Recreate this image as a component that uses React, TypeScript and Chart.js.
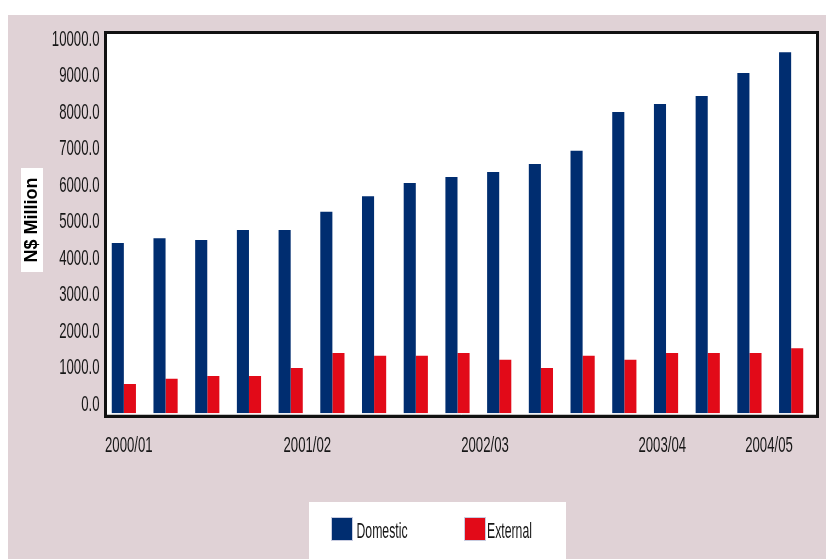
import React, { useEffect, useRef } from "react";
import { Chart, registerables } from "chart.js";

Chart.register(...registerables);

// ---- data ----
const categories = [
  "2000/01 Q1", "2000/01 Q2", "2000/01 Q3", "2000/01 Q4",
  "2001/02 Q1", "2001/02 Q2", "2001/02 Q3", "2001/02 Q4",
  "2002/03 Q1", "2002/03 Q2", "2002/03 Q3", "2002/03 Q4",
  "2003/04 Q1", "2003/04 Q2", "2003/04 Q3", "2003/04 Q4",
  "2004/05 Q1",
];
const domestic = [4380, 4510, 4460, 4730, 4730, 5230, 5660, 6020, 6180, 6320, 6540, 6900, 7960, 8180, 8400, 9030, 9600];
const external = [520, 660, 740, 740, 960, 1370, 1290, 1290, 1370, 1180, 960, 1290, 1180, 1370, 1370, 1370, 1500];
const yTickValues = [0, 1000, 2000, 3000, 4000, 5000, 6000, 7000, 8000, 9000, 10000];
const xTickLabels = ["2000/01", "2001/02", "2002/03", "2003/04", "2004/05"];
const xTickPositions = [0.12, 4.4, 8.66, 12.91, 15.47];
const yTitle = "N$ Million";
const seriesNames = ["Domestic", "External"];

// ---- styles ----
const PINK = "#e0d2d6";
const NAVY = "#002d70";
const RED = "#e20a18";
const TEXT = "#161616";
const FONT = "'Liberation Sans', Arial, sans-serif";
const Y_MIN = -282;
const Y_MAX = 10096;

const drawSquished = (ctx: CanvasRenderingContext2D, text: string, x: number, y: number, align: CanvasTextAlign, sx: number) => {
  ctx.save();
  ctx.translate(x, y);
  ctx.scale(sx, 1);
  ctx.textAlign = align;
  ctx.textBaseline = "alphabetic";
  ctx.fillText(text, 0, 0);
  ctx.restore();
};

const decorPlugin = {
  id: "decor",
  beforeDraw(chart: any) {
    const ctx = chart.ctx as CanvasRenderingContext2D;
    ctx.save();
    ctx.fillStyle = PINK;
    ctx.fillRect(0, 0, chart.width, chart.height);
    ctx.fillStyle = "#ffffff";
    ctx.fillRect(97.5, 17.5, 712, 384);
    ctx.restore();
  },
  afterDraw(chart: any) {
    const ctx = chart.ctx as CanvasRenderingContext2D;
    const xs = chart.scales.x;
    const ys = chart.scales.y;
    ctx.save();
    // light inner line at bottom
    ctx.strokeStyle = "#c4c4c4";
    ctx.lineWidth = 1;
    ctx.beginPath();
    ctx.moveTo(99, 399.5);
    ctx.lineTo(808, 399.5);
    ctx.stroke();
    // plot border
    ctx.strokeStyle = "#111111";
    ctx.lineWidth = 3;
    ctx.strokeRect(97.5, 17.5, 712, 384);

    // y tick labels
    ctx.fillStyle = TEXT;
    ctx.font = `22px ${FONT}`;
    yTickValues.forEach((v) => {
      const py = ys.getPixelForValue(v);
      drawSquished(ctx, v.toFixed(1), 91.5, py + 8, "right", 0.6);
    });
    // x tick labels
    xTickLabels.forEach((lab, i) => {
      const px = xs.getPixelForValue(xTickPositions[i]);
      drawSquished(ctx, lab, px, 436.5, "center", 0.6);
    });

    // y title with white box
    ctx.fillStyle = "#ffffff";
    ctx.fillRect(13, 153, 22, 104);
    ctx.save();
    ctx.translate(24.5, 205);
    ctx.rotate(-Math.PI / 2);
    ctx.fillStyle = "#000000";
    ctx.font = `bold 18px ${FONT}`;
    ctx.textAlign = "center";
    ctx.textBaseline = "middle";
    ctx.fillText(yTitle, 0, 0);
    ctx.restore();

    // legend
    ctx.fillStyle = "#ffffff";
    ctx.fillRect(301, 487, 257, 57);
    const items = [
      { sx: 323, tx: 348.5, color: chart.data.datasets[0].backgroundColor, label: chart.data.datasets[0].label },
      { sx: 456, tx: 479, color: chart.data.datasets[1].backgroundColor, label: chart.data.datasets[1].label },
    ];
    items.forEach((it) => {
      ctx.fillStyle = it.color;
      ctx.fillRect(it.sx, 502.5, 21, 23);
      ctx.strokeStyle = "#c8cce0";
      ctx.lineWidth = 1;
      ctx.strokeRect(it.sx + 0.5, 502.5, 21, 23);
      ctx.fillStyle = TEXT;
      ctx.font = `22px ${FONT}`;
      drawSquished(ctx, it.label, it.tx, 523.3, "left", 0.557);
    });
    ctx.restore();
  },
};

export default function App() {
  const ref = useRef<HTMLCanvasElement | null>(null);

  useEffect(() => {
    document.body.style.margin = "0";
    const canvas = ref.current;
    if (!canvas) return;
    const chart = new Chart(canvas, {
      type: "bar",
      data: {
        labels: categories,
        datasets: [
          {
            label: seriesNames[0],
            data: domestic,
            backgroundColor: NAVY,
            borderWidth: 0,
            base: Y_MIN,
            categoryPercentage: 0.58,
            barPercentage: 1.0,
          } as any,
          {
            label: seriesNames[1],
            data: external,
            backgroundColor: RED,
            borderWidth: 0,
            base: Y_MIN,
            categoryPercentage: 0.58,
            barPercentage: 1.0,
          } as any,
        ],
      },
      options: {
        animation: false,
        responsive: false,
        maintainAspectRatio: false,
        devicePixelRatio: 1,
        layout: { padding: { left: 95, top: 19, right: 14, bottom: 145.7 } },
        plugins: {
          legend: { display: false },
          tooltip: { enabled: false },
          title: { display: false },
        },
        scales: {
          x: { display: false, offset: true, grid: { display: false } },
          y: { display: false, min: Y_MIN, max: Y_MAX, grid: { display: false } },
        },
      },
      plugins: [decorPlugin],
    });
    return () => chart.destroy();
  }, []);

  return (
    <div style={{ position: "fixed", left: 0, top: 0, width: 826, height: 559, background: "#ffffff", overflow: "hidden" }}>
      <canvas
        ref={ref}
        width={818}
        height={544}
        style={{ position: "absolute", left: 8, top: 15, width: 818, height: 544 }}
      />
    </div>
  );
}
